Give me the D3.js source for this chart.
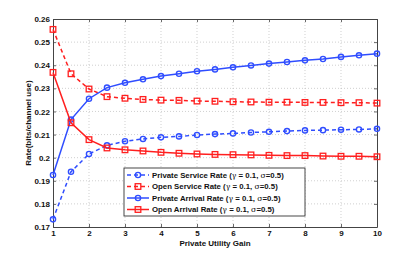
<!DOCTYPE html>
<meta charset="UTF-8">
<html lang="en">
<head>
<link rel="icon" href="data:,">
<style>
body { margin: 0; background: #fff; }
svg text { font-family: "Liberation Sans", Arial, sans-serif; font-weight: bold; fill: #111; }
.grid line { stroke: #bbb; stroke-width: 0.7; stroke-dasharray: 1,2; }
.greek { font-family: "DejaVu Serif", "Liberation Serif", serif; font-weight: normal; }
</style>
<script src="https://cdnjs.cloudflare.com/ajax/libs/d3/7.8.5/d3.min.js"></script>
</head>
<body>
<svg id="chart" width="415" height="255"></svg>
<script>
const gain = [1, 1.5, 2, 2.5, 3, 3.5, 4, 4.5, 5, 5.5, 6, 6.5, 7, 7.5, 8, 8.5, 9, 9.5, 10];

const privateService = [0.1733, 0.1939, 0.2016, 0.2053, 0.2071, 0.2081, 0.2088, 0.2092, 0.2098, 0.2102,
                        0.2105, 0.2109, 0.2112, 0.2115, 0.2118, 0.2119, 0.2121, 0.2122, 0.2125];
const openService = [0.2555, 0.2363, 0.2297, 0.2264, 0.2257, 0.2252, 0.2249, 0.2248, 0.2245, 0.2244,
                     0.2242, 0.2241, 0.2240, 0.2240, 0.2239, 0.2239, 0.2238, 0.2238, 0.2236];
const privateArrival = [0.1925, 0.2165, 0.2255, 0.2303, 0.2324, 0.2339, 0.2353, 0.2363, 0.2374, 0.2382,
                        0.2391, 0.2399, 0.2407, 0.2414, 0.2421, 0.2427, 0.2436, 0.2443, 0.2450];
const openArrival = [0.2369, 0.2151, 0.2078, 0.2042, 0.2034, 0.2029, 0.2023, 0.2019, 0.2016, 0.2014,
                     0.2013, 0.2012, 0.2010, 0.2009, 0.2009, 0.2007, 0.2006, 0.2006, 0.2004];

const xTicks = [1, 2, 3, 4, 5, 6, 7, 8, 9, 10];
const yTicks = [0.17, 0.18, 0.19, 0.2, 0.21, 0.22, 0.23, 0.24, 0.25, 0.26];

const seriesNames = ["Private Service Rate", "Open Service Rate", "Private Arrival Rate", "Open Arrival Rate"];

const blue = "#2f4dff";
const red = "#ff1f1f";

const series = [
  { name: seriesNames[0], values: privateService, color: blue, dash: "4,3", marker: "circle" },
  { name: seriesNames[1], values: openService, color: red, dash: "4,3", marker: "square" },
  { name: seriesNames[2], values: privateArrival, color: blue, dash: null, marker: "circle" },
  { name: seriesNames[3], values: openArrival, color: red, dash: null, marker: "square" }
];

const margin = { left: 53, top: 19, right: 38, bottom: 28 };
const width = 415 - margin.left - margin.right;
const height = 255 - margin.top - margin.bottom;

const svg = d3.select("#chart");
const g = svg.append("g").attr("transform", `translate(${margin.left},${margin.top})`);

const x = d3.scaleLinear().domain([1, 10]).range([0, width]);
const y = d3.scaleLinear().domain([0.17, 0.26]).range([height, 0]);

// grid
const grid = g.append("g").attr("class", "grid");
grid.selectAll("line.v").data(xTicks.slice(1, -1)).enter().append("line")
  .attr("x1", d => x(d)).attr("x2", d => x(d)).attr("y1", 0).attr("y2", height);
grid.selectAll("line.h").data(yTicks.slice(1, -1)).enter().append("line")
  .attr("x1", 0).attr("x2", width).attr("y1", d => y(d)).attr("y2", d => y(d));

// axes (matlab style: inward ticks, box)
const fmtY = d => d3.format(".2f")(d).replace(/0$/, "");
g.append("g").attr("transform", `translate(0,${height})`)
  .call(d3.axisBottom(x).tickValues(xTicks).tickSizeInner(-3).tickSizeOuter(0).tickPadding(3.5).tickFormat(d3.format("d")));
g.append("g")
  .call(d3.axisLeft(y).tickValues(yTicks).tickSizeInner(-3).tickSizeOuter(0).tickPadding(3).tickFormat(fmtY));
g.append("g").call(d3.axisTop(x).tickValues(xTicks).tickSizeInner(-3).tickSizeOuter(0).tickFormat(""));
g.append("g").attr("transform", `translate(${width},0)`)
  .call(d3.axisRight(y).tickValues(yTicks).tickSizeInner(-3).tickSizeOuter(0).tickFormat(""));

g.selectAll(".domain").attr("stroke", "#444").attr("stroke-width", 1);
g.selectAll(".tick line").attr("stroke", "#444").attr("stroke-width", 0.8);
g.selectAll(".tick text").attr("font-size", 8).attr("fill", "#111")
  .attr("font-family", "Liberation Sans, Arial, sans-serif").attr("font-weight", "bold");

// titles
svg.append("text").attr("x", margin.left + width / 2).attr("y", 245.5)
  .attr("text-anchor", "middle").attr("font-size", 8).text("Private Utility Gain");
svg.append("text").attr("transform", `translate(31,${margin.top + height / 2}) rotate(-90)`)
  .attr("text-anchor", "middle").attr("font-size", 8).text("Rate(bits/channel use)");

function drawMarker(sel, type, color) {
  if (type === "circle") {
    sel.append("circle").attr("r", 2.6).attr("fill", "none").attr("stroke", color).attr("stroke-width", 1.4);
  } else {
    sel.append("rect").attr("x", -2.8).attr("y", -2.8).attr("width", 5.6).attr("height", 5.6)
      .attr("fill", "none").attr("stroke", color).attr("stroke-width", 1.3);
  }
}

const line = d3.line().x((d, i) => x(gain[i])).y(d => y(d));

series.forEach(s => {
  g.append("path").datum(s.values)
    .attr("fill", "none").attr("stroke", s.color).attr("stroke-width", 1.5)
    .attr("stroke-dasharray", s.dash).attr("d", line);
  s.values.forEach((v, i) => {
    const m = g.append("g").attr("transform", `translate(${x(gain[i])},${y(v)})`);
    drawMarker(m, s.marker, s.color);
  });
});

// legend
const leg = svg.append("g").attr("transform", "translate(124,168)");
leg.append("rect").attr("width", 181).attr("height", 48)
  .attr("fill", "#fff").attr("stroke", "#333").attr("stroke-width", 0.9);
series.forEach((s, i) => {
  const row = leg.append("g").attr("transform", `translate(0,${7 + i * 11.5})`);
  row.append("line").attr("x1", 3).attr("x2", 25).attr("y1", 0).attr("y2", 0)
    .attr("stroke", s.color).attr("stroke-width", 1.5).attr("stroke-dasharray", s.dash);
  const m = row.append("g").attr("transform", "translate(14,0)");
  drawMarker(m, s.marker, s.color);
  const t = row.append("text").attr("x", 28).attr("y", 2.8).attr("font-size", 7.8);
  t.append("tspan").text(s.name + " (");
  t.append("tspan").attr("class", "greek").text("γ");
  t.append("tspan").text(" = 0.1, ");
  t.append("tspan").attr("class", "greek").text("σ");
  t.append("tspan").text("=0.5)");
});
</script>
</body>
</html>
